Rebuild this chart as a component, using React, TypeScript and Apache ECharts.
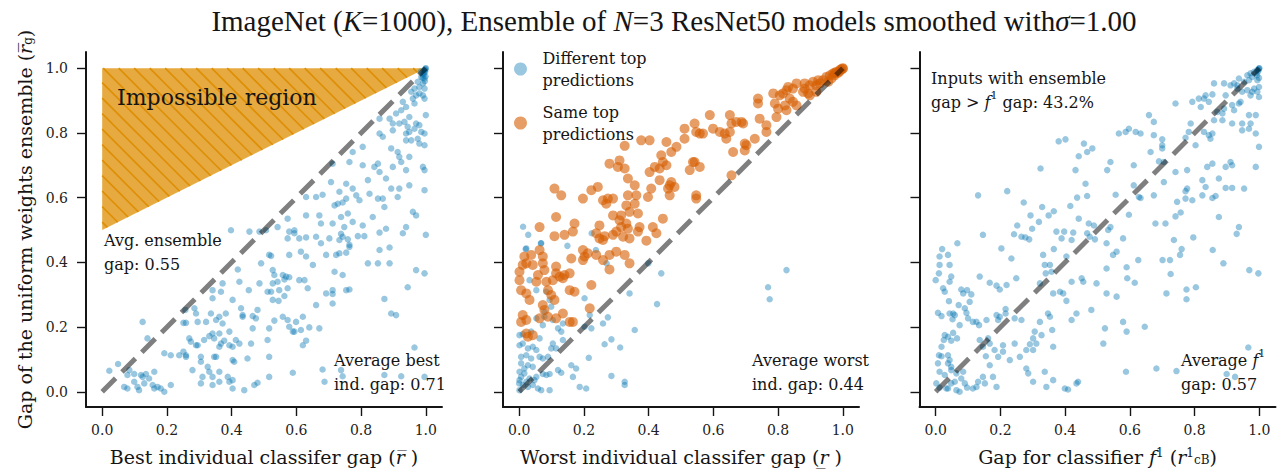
import React, { useEffect, useRef } from 'react';
import * as echarts from 'echarts';

const X_TICKS = [0, 0.2, 0.4, 0.6, 0.8, 1.0];
const Y_TICKS = [0, 0.2, 0.4, 0.6, 0.8, 1.0];
const DIAGONAL = [[0, 0], [1, 1]];
const IMPOSSIBLE_REGION = [[0, 0.5], [0, 1], [1, 1]];

// Panel 1: best individual classifier gap vs ensemble gap
const BEST_VS_ENSEMBLE = [
  [1.0, 1.0], [0.999, 0.998], [0.997, 0.995], [0.998, 0.99], [0.995, 0.985], [0.993, 0.98], [0.999, 0.975], [0.99, 0.97], [0.985, 0.99], [0.997, 0.96],
  [0.996, 0.994], [0.991, 0.984], [0.986, 0.973], [0.996, 0.968], [0.975, 0.958], [0.991, 0.953], [0.98, 0.942], [0.965, 0.937], [0.996, 0.937], [0.955, 0.927], [0.98, 0.922], [0.97, 0.916], [0.991, 0.916], [0.96, 0.906], [0.996, 0.906],
  [0.929, 0.896], [0.965, 0.891], [0.939, 0.88], [0.924, 0.87], [0.949, 0.849], [1.0, 0.855], [0.908, 0.86], [0.888, 0.844], [0.857, 0.844], [0.898, 0.829], [0.918, 0.829], [0.934, 0.834], [0.97, 0.829], [0.98, 0.824], [0.944, 0.819], [0.965, 0.813], [0.939, 0.798], [0.986, 0.803], [0.996, 0.798], [0.949, 0.803], [0.857, 0.798], [0.898, 0.808], [0.867, 0.788], [0.955, 0.777], [0.975, 0.782], [0.939, 0.777], [0.996, 0.762], [0.98, 0.767], [0.893, 0.752], [0.805, 0.757], [0.774, 0.741], [0.913, 0.741], [0.949, 0.726], [0.918, 0.726], [0.924, 0.71], [0.764, 0.71], [0.712, 0.705], [0.805, 0.7], [0.852, 0.705], [0.841, 0.695], [0.898, 0.695], [0.991, 0.695], [0.996, 0.685], [0.939, 0.685], [0.857, 0.679], [0.707, 0.648], [0.821, 0.654], [0.877, 0.659], [0.754, 0.643], [0.949, 0.638], [0.893, 0.628], [0.918, 0.628], [0.996, 0.623], [0.774, 0.628], [0.733, 0.618], [0.785, 0.607], [0.826, 0.612], [0.852, 0.597], [0.63, 0.602], [0.661, 0.602], [0.681, 0.609], [0.754, 0.597], [0.795, 0.592], [0.867, 0.597], [0.913, 0.602], [0.718, 0.576], [0.728, 0.581], [0.743, 0.585], [0.872, 0.571], [0.96, 0.556], [0.97, 0.545], [0.63, 0.545], [0.671, 0.545], [0.738, 0.54], [0.759, 0.551], [0.836, 0.54], [0.573, 0.535], [0.542, 0.509], [0.676, 0.52], [0.712, 0.52], [0.748, 0.509], [0.774, 0.525], [0.805, 0.514], [0.939, 0.509], [0.398, 0.499], [0.506, 0.499], [0.594, 0.499], [0.877, 0.504],
  [0.455, 0.495], [0.486, 0.495], [0.578, 0.495], [0.594, 0.49], [0.63, 0.477], [0.661, 0.479], [0.738, 0.488], [0.743, 0.479], [0.79, 0.481], [0.81, 0.481], [0.857, 0.492], [0.929, 0.49], [1.0, 0.485], [0.573, 0.474], [0.609, 0.474], [0.676, 0.459], [0.702, 0.474], [0.733, 0.469], [0.759, 0.471], [0.764, 0.454],
  [0.516, 0.423], [0.522, 0.42], [0.491, 0.397], [0.578, 0.423], [0.614, 0.433], [0.63, 0.418], [0.651, 0.392], [0.692, 0.423], [0.723, 0.423], [0.733, 0.428], [0.754, 0.43], [0.764, 0.448], [0.821, 0.397], [0.852, 0.397], [0.857, 0.438], [0.888, 0.397], [0.888, 0.446], [0.97, 0.376], [0.996, 0.366],
  [0.419, 0.378], [0.527, 0.376], [0.532, 0.361], [0.558, 0.361], [0.568, 0.356], [0.563, 0.347], [0.609, 0.345], [0.578, 0.354], [0.625, 0.345], [0.718, 0.371], [0.743, 0.361], [0.424, 0.34], [0.486, 0.335], [0.527, 0.335], [0.542, 0.34], [0.511, 0.309], [0.522, 0.309], [0.547, 0.314], [0.573, 0.32], [0.635, 0.32], [0.692, 0.304], [0.712, 0.314], [0.712, 0.302], [0.754, 0.314], [0.764, 0.316], [0.944, 0.323], [0.372, 0.335], [0.367, 0.309], [0.341, 0.314], [0.453, 0.314], [0.341, 0.289], [0.403, 0.284], [0.527, 0.284], [0.545, 0.281], [0.563, 0.296], [0.661, 0.268], [0.712, 0.273], [0.872, 0.287],
  [0.257, 0.253], [0.285, 0.258], [0.29, 0.242], [0.336, 0.242], [0.362, 0.232], [0.382, 0.242], [0.429, 0.258], [0.434, 0.237], [0.434, 0.232], [0.48, 0.253], [0.558, 0.232], [0.532, 0.22], [0.573, 0.222], [0.599, 0.216], [0.62, 0.232], [0.352, 0.222], [0.465, 0.234], [0.475, 0.227], [0.893, 0.242], [0.908, 0.237],
  [0.125, 0.216], [0.251, 0.213], [0.259, 0.213], [0.295, 0.216], [0.321, 0.216], [0.372, 0.211], [0.465, 0.196], [0.516, 0.196], [0.578, 0.201], [0.614, 0.191], [0.64, 0.199], [0.671, 0.196], [0.589, 0.186], [0.594, 0.186],
  [0.14, 0.165], [0.269, 0.165], [0.274, 0.155], [0.295, 0.144], [0.315, 0.16], [0.29, 0.144], [0.331, 0.172], [0.341, 0.18], [0.346, 0.165], [0.362, 0.18], [0.367, 0.149], [0.377, 0.158], [0.393, 0.186], [0.413, 0.16], [0.424, 0.149], [0.362, 0.139], [0.393, 0.144], [0.403, 0.139], [0.511, 0.16], [0.63, 0.158], [0.62, 0.144], [0.46, 0.149],
  [0.192, 0.119], [0.212, 0.113], [0.238, 0.113], [0.251, 0.124], [0.259, 0.113], [0.259, 0.108], [0.305, 0.108], [0.346, 0.108], [0.352, 0.108], [0.449, 0.103], [0.516, 0.108], [0.305, 0.093], [0.403, 0.098], [0.326, 0.077], [0.408, 0.093], [0.965, 0.137],
  [0.022, 0.065], [0.049, 0.086], [0.078, 0.052], [0.084, 0.067], [0.099, 0.055], [0.12, 0.052], [0.125, 0.046], [0.135, 0.055], [0.161, 0.062], [0.145, 0.041], [0.13, 0.026], [0.109, 0.015], [0.114, 0.005], [0.099, 0.031], [0.068, 0.015], [0.078, 0.01], [0.156, 0.021], [0.161, 0.01], [0.171, 0.015], [0.192, 0.0], [0.181, 0.01], [0.212, 0.021], [0.279, 0.067], [0.31, 0.046], [0.331, 0.062], [0.341, 0.046], [0.362, 0.062], [0.388, 0.046], [0.393, 0.031], [0.403, 0.036], [0.341, 0.021], [0.305, 0.026], [0.362, 0.031], [0.403, 0.01], [0.439, 0.005], [0.47, 0.021], [0.48, 0.028], [0.516, 0.046], [0.589, 0.059], [0.681, 0.069], [0.687, 0.031], [0.738, 0.067], [0.743, 0.048], [0.872, 0.052], [0.924, 0.048], [0.996, 0.046],
];

// Panel 2: worst individual classifier gap vs ensemble gap
const WORST_DIFFERENT = [
  [0.012, 0.51], [0.028, 0.485], [0.067, 0.459], [0.02, 0.441], [0.149, 0.451], [0.224, 0.49], [0.237, 0.438], [0.27, 0.397], [0.399, 0.397],
  [0.022, 0.443], [0.068, 0.459], [0.032, 0.345], [0.053, 0.314], [0.084, 0.309], [0.094, 0.284], [0.099, 0.263], [0.078, 0.247], [0.073, 0.206], [0.053, 0.227], [0.078, 0.232], [0.12, 0.196], [0.135, 0.211], [0.104, 0.222], [0.13, 0.186], [0.202, 0.289], [0.218, 0.237], [0.223, 0.196], [0.202, 0.201], [0.259, 0.211], [0.274, 0.23], [0.357, 0.191], [0.264, 0.147], [0.285, 0.162], [0.312, 0.137], [0.215, 0.105], [0.439, 0.366], [0.426, 0.271], [0.341, 0.304], [0.826, 0.376], [0.769, 0.323], [0.774, 0.286],
  [0.001, 0.175], [0.011, 0.178], [0.037, 0.186], [0.063, 0.165], [0.001, 0.144], [0.011, 0.149], [0.027, 0.134], [0.042, 0.139], [0.053, 0.129], [0.022, 0.113], [0.006, 0.108], [0.037, 0.103], [0.063, 0.108], [0.073, 0.103], [0.089, 0.108], [0.114, 0.134], [0.135, 0.16], [0.104, 0.149], [0.099, 0.134], [0.006, 0.088], [0.027, 0.082], [0.042, 0.077], [0.001, 0.062], [0.016, 0.057], [0.032, 0.041], [0.047, 0.036], [0.0, 0.026], [0.011, 0.021], [0.027, 0.015], [0.042, 0.021], [0.058, 0.01], [0.068, 0.005], [0.094, 0.005], [0.001, 0.005], [0.084, 0.052], [0.073, 0.055], [0.094, 0.055], [0.12, 0.067], [0.13, 0.059], [0.161, 0.082], [0.166, 0.046], [0.176, 0.072], [0.187, 0.015], [0.207, 0.01], [0.285, 0.049], [0.326, 0.031], [0.326, 0.021], [0.001, 0.036], [0.022, 0.031], [0.053, 0.046], [0.006, 0.046], [0.016, 0.072],
];

const WORST_SAME = [
  [1.0, 1.0], [0.995, 0.997], [0.99, 0.99], [0.985, 0.985], [0.975, 0.985], [1.0, 0.998],
  [0.991, 0.994], [0.98, 0.989], [0.97, 0.984], [0.96, 0.978], [0.949, 0.973], [0.975, 0.978], [0.965, 0.968], [0.939, 0.963], [0.955, 0.958], [0.929, 0.953], [0.918, 0.947], [0.924, 0.963], [0.908, 0.958], [0.898, 0.947], [0.882, 0.953], [0.857, 0.953], [0.882, 0.937], [0.877, 0.927], [0.893, 0.922], [0.898, 0.916], [0.918, 0.927], [0.846, 0.937], [0.831, 0.942], [0.826, 0.932], [0.815, 0.922], [0.805, 0.916], [0.785, 0.922], [0.836, 0.906], [0.846, 0.896], [0.857, 0.885], [0.821, 0.885], [0.826, 0.87], [0.8, 0.875], [0.795, 0.849], [0.79, 0.891], [0.738, 0.906], [0.738, 0.891], [0.743, 0.844], [0.764, 0.824], [0.764, 0.803], [0.728, 0.782], [0.702, 0.762], [0.697, 0.746], [0.651, 0.855], [0.656, 0.829], [0.671, 0.834], [0.687, 0.834], [0.692, 0.829], [0.697, 0.767], [0.661, 0.741], [0.656, 0.669], [0.589, 0.855], [0.599, 0.813], [0.62, 0.803], [0.635, 0.798], [0.64, 0.782], [0.651, 0.803], [0.542, 0.829], [0.547, 0.803], [0.558, 0.798], [0.568, 0.798], [0.511, 0.813], [0.511, 0.782], [0.455, 0.772], [0.486, 0.757], [0.47, 0.741], [0.439, 0.731], [0.444, 0.71], [0.455, 0.7], [0.434, 0.69], [0.403, 0.679], [0.419, 0.695], [0.47, 0.648], [0.465, 0.638], [0.46, 0.628], [0.48, 0.633], [0.465, 0.607], [0.537, 0.71], [0.542, 0.71], [0.527, 0.685], [0.558, 0.695], [0.377, 0.777], [0.403, 0.777], [0.326, 0.76], [0.31, 0.715], [0.305, 0.695], [0.326, 0.69], [0.279, 0.705], [0.336, 0.659], [0.357, 0.638], [0.408, 0.628], [0.434, 0.654], [0.398, 0.602], [0.336, 0.607], [0.362, 0.607], [0.357, 0.581], [0.259, 0.592], [0.274, 0.597], [0.29, 0.597], [0.269, 0.581], [0.331, 0.576], [0.341, 0.556], [0.367, 0.551], [0.315, 0.545], [0.29, 0.545], [0.31, 0.53], [0.331, 0.52], [0.315, 0.509], [0.336, 0.504], [0.372, 0.509], [0.413, 0.509], [0.444, 0.535], [0.109, 0.628], [0.13, 0.607], [0.197, 0.597], [0.223, 0.623], [0.243, 0.633], [0.114, 0.54], [0.171, 0.52], [0.248, 0.514], [0.063, 0.509], [0.547, 0.607], [0.547, 0.597],
  [0.109, 0.481], [0.14, 0.485], [0.166, 0.495], [0.238, 0.49], [0.248, 0.474], [0.259, 0.469], [0.264, 0.481], [0.29, 0.485], [0.3, 0.495], [0.321, 0.479], [0.341, 0.474], [0.367, 0.495], [0.393, 0.467], [0.424, 0.49], [0.016, 0.418], [0.037, 0.423], [0.063, 0.438], [0.073, 0.418], [0.073, 0.397], [0.114, 0.387], [0.14, 0.361], [0.161, 0.412], [0.197, 0.438], [0.202, 0.418], [0.197, 0.407], [0.212, 0.428], [0.238, 0.423], [0.259, 0.407], [0.279, 0.423], [0.279, 0.378], [0.3, 0.433], [0.326, 0.423], [0.341, 0.397], [0.001, 0.371], [0.011, 0.392], [0.022, 0.397], [0.042, 0.392], [0.001, 0.345], [0.006, 0.314], [0.022, 0.304], [0.032, 0.284], [0.053, 0.34], [0.058, 0.361], [0.078, 0.376], [0.084, 0.34], [0.104, 0.345], [0.114, 0.366], [0.125, 0.356], [0.135, 0.351], [0.156, 0.366], [0.156, 0.314], [0.171, 0.309], [0.223, 0.33], [0.089, 0.314], [0.099, 0.299], [0.109, 0.284], [0.073, 0.268], [0.078, 0.253], [0.063, 0.227], [0.089, 0.232], [0.114, 0.227], [0.135, 0.242], [0.156, 0.216], [0.166, 0.216], [0.218, 0.258], [0.011, 0.237], [0.022, 0.222], [0.006, 0.216], [0.022, 0.18], [0.027, 0.17], [0.042, 0.175],
];

// Panel 3: classifier f1 gap vs ensemble gap
const F1_VS_ENSEMBLE = [
  [1.0, 1.0], [0.998, 0.996], [0.996, 0.99], [0.99, 0.985], [0.993, 0.978], [0.999, 0.97],
  [0.999, 0.999], [0.994, 0.994], [0.984, 0.989], [0.973, 0.984], [0.978, 0.973], [0.963, 0.978], [0.968, 0.963], [0.994, 0.963], [0.953, 0.958], [0.937, 0.968], [0.922, 0.953], [0.932, 0.947], [0.984, 0.937], [0.999, 0.942], [0.963, 0.932], [0.978, 0.927], [0.994, 0.927], [0.973, 0.916], [0.999, 0.911], [0.947, 0.927], [0.932, 0.937], [0.911, 0.947], [0.891, 0.953], [0.86, 0.953], [0.896, 0.916], [0.937, 0.891], [0.916, 0.886], [0.891, 0.875], [0.87, 0.865], [0.86, 0.839], [0.886, 0.839], [0.942, 0.896], [0.834, 0.916], [0.855, 0.919], [0.813, 0.906], [0.829, 0.906], [0.844, 0.896], [0.793, 0.896], [0.819, 0.88], [0.741, 0.891], [0.886, 0.86], [0.922, 0.87], [0.968, 0.855], [0.989, 0.855], [0.916, 0.829], [0.947, 0.829], [0.973, 0.829], [0.947, 0.808], [0.968, 0.813], [0.989, 0.798], [0.999, 0.757], [0.989, 0.695], [0.659, 0.855], [0.674, 0.834], [0.566, 0.798], [0.587, 0.803], [0.597, 0.813], [0.618, 0.803], [0.633, 0.798], [0.674, 0.793], [0.7, 0.78], [0.7, 0.762], [0.7, 0.752], [0.705, 0.71], [0.69, 0.712], [0.664, 0.741], [0.612, 0.7], [0.628, 0.602], [0.612, 0.638], [0.674, 0.607], [0.705, 0.648], [0.741, 0.679], [0.777, 0.685], [0.782, 0.803], [0.788, 0.829], [0.772, 0.785], [0.829, 0.803], [0.844, 0.793], [0.849, 0.782], [0.855, 0.798], [0.803, 0.762], [0.839, 0.695], [0.855, 0.705], [0.896, 0.695], [0.911, 0.71], [0.916, 0.7], [0.38, 0.774], [0.401, 0.78], [0.458, 0.767], [0.484, 0.752], [0.468, 0.741], [0.442, 0.728], [0.54, 0.71], [0.53, 0.685], [0.432, 0.685], [0.324, 0.69], [0.463, 0.643], [0.437, 0.6], [0.468, 0.605], [0.556, 0.609], [0.633, 0.599], [0.221, 0.62], [0.131, 0.607], [0.272, 0.585], [0.329, 0.571], [0.293, 0.545], [0.349, 0.545], [0.365, 0.558], [0.319, 0.525], [0.252, 0.514], [0.298, 0.504], [0.416, 0.574], [0.442, 0.535], [0.473, 0.52], [0.489, 0.514], [0.54, 0.509], [0.597, 0.547], [0.679, 0.52], [0.71, 0.52], [0.741, 0.542], [0.757, 0.554], [0.772, 0.597], [0.793, 0.592], [0.824, 0.607], [0.834, 0.633], [0.855, 0.599], [0.865, 0.605], [0.875, 0.659], [0.896, 0.63], [0.916, 0.63], [0.953, 0.628], [0.746, 0.587], [0.875, 0.54], [0.937, 0.509], [0.772, 0.62], [0.777, 0.628], [0.824, 0.654],
  [0.067, 0.459], [0.146, 0.485], [0.203, 0.443], [0.242, 0.487], [0.265, 0.479], [0.277, 0.477], [0.289, 0.471], [0.365, 0.441], [0.373, 0.495], [0.389, 0.474], [0.397, 0.495], [0.425, 0.492], [0.42, 0.469], [0.468, 0.49], [0.476, 0.479], [0.492, 0.471], [0.528, 0.459], [0.533, 0.5], [0.579, 0.474], [0.736, 0.469], [0.76, 0.441], [0.796, 0.477], [0.93, 0.488], [0.02, 0.441],
  [0.012, 0.418], [0.038, 0.423], [0.012, 0.392], [0.043, 0.392], [0.0, 0.345], [0.01, 0.366], [0.023, 0.32], [0.028, 0.309], [0.043, 0.34], [0.048, 0.356], [0.041, 0.28], [0.054, 0.242], [0.059, 0.237], [0.052, 0.224], [0.043, 0.242], [0.071, 0.268], [0.074, 0.206], [0.007, 0.244], [0.018, 0.234], [0.025, 0.16], [0.018, 0.139], [0.028, 0.175], [0.038, 0.17], [0.054, 0.182], [0.048, 0.158], [0.066, 0.165], [0.01, 0.113], [0.018, 0.11], [0.038, 0.113], [0.043, 0.098], [0.007, 0.088], [0.038, 0.088], [0.048, 0.077], [0.012, 0.062], [0.028, 0.052], [0.048, 0.067], [0.064, 0.057], [0.079, 0.041], [0.085, 0.062], [0.002, 0.026], [0.012, 0.013], [0.033, 0.01], [0.048, 0.026], [0.038, 0.01], [0.059, 0.031], [0.064, 0.005], [0.074, 0.0], [0.09, 0.026], [0.097, 0.013], [0.115, 0.01], [0.126, 0.015],
  [0.079, 0.316], [0.085, 0.304], [0.097, 0.314], [0.11, 0.301], [0.105, 0.278], [0.09, 0.258], [0.095, 0.244], [0.1, 0.227], [0.115, 0.216], [0.126, 0.216], [0.136, 0.356], [0.134, 0.206], [0.157, 0.222], [0.136, 0.16], [0.146, 0.139], [0.162, 0.165], [0.167, 0.149], [0.182, 0.129], [0.155, 0.11], [0.167, 0.082], [0.177, 0.046], [0.146, 0.046], [0.131, 0.031], [0.152, 0.026], [0.188, 0.015], [0.193, 0.108], [0.208, 0.124], [0.229, 0.098], [0.244, 0.149], [0.26, 0.108], [0.208, 0.144], [0.167, 0.337], [0.188, 0.328], [0.198, 0.316], [0.219, 0.33], [0.234, 0.412], [0.249, 0.351], [0.188, 0.237], [0.193, 0.222], [0.198, 0.232], [0.216, 0.256], [0.216, 0.242], [0.244, 0.227], [0.265, 0.222],
  [0.28, 0.072], [0.286, 0.057], [0.301, 0.031], [0.301, 0.165], [0.306, 0.186], [0.311, 0.149], [0.322, 0.216], [0.327, 0.175], [0.337, 0.062], [0.342, 0.015], [0.347, 0.242], [0.353, 0.232], [0.363, 0.036], [0.363, 0.139], [0.36, 0.191], [0.301, 0.129], [0.28, 0.129], [0.291, 0.147], [0.332, 0.423], [0.337, 0.392], [0.353, 0.392], [0.34, 0.366], [0.358, 0.371], [0.322, 0.335], [0.363, 0.304], [0.384, 0.309], [0.394, 0.304], [0.404, 0.281], [0.404, 0.418], [0.399, 0.01], [0.409, 0.007], [0.435, 0.242], [0.435, 0.026], [0.44, 0.031], [0.456, 0.34], [0.451, 0.351], [0.42, 0.34], [0.42, 0.222], [0.481, 0.253], [0.497, 0.335], [0.518, 0.149], [0.523, 0.196], [0.528, 0.304], [0.528, 0.381], [0.559, 0.294], [0.548, 0.423], [0.559, 0.433], [0.579, 0.216], [0.59, 0.186], [0.588, 0.062], [0.59, 0.385], [0.592, 0.351], [0.615, 0.337], [0.626, 0.407], [0.646, 0.201], [0.682, 0.072], [0.701, 0.407], [0.713, 0.304], [0.724, 0.407], [0.726, 0.364], [0.744, 0.064], [0.755, 0.423], [0.775, 0.316], [0.775, 0.286], [0.804, 0.323], [0.856, 0.438], [0.889, 0.397], [0.969, 0.376], [0.997, 0.366], [0.966, 0.137], [0.899, 0.055], [0.925, 0.046],
];

const SERIF = 'DejaVu Serif';
const TEXT = '#151515';
const BLUE = 'rgba(1,115,178,0.5)';
const ORANGE = 'rgba(213,94,0,0.75)';

const GRID_LEFTS = [86, 503, 919.5];

function App() {
  const ref = useRef<HTMLDivElement>(null);

  useEffect(() => {
    document.body.style.margin = '0';
    if (!ref.current) return;
    const chart = echarts.init(ref.current, null, { renderer: 'svg' });

    const richName = {
      i: { fontFamily: SERIF, fontSize: 19, fontStyle: 'italic', color: TEXT },
      sup: { fontFamily: SERIF, fontSize: 12, verticalAlign: 'top', color: TEXT },
      sub: { fontFamily: SERIF, fontSize: 12, verticalAlign: 'bottom', color: TEXT },
    };

    const xNames = [
      'Best individual classifer gap ({i|r\u0305} )',
      'Worst individual classifer gap ({i|r\u0332} )',
      'Gap for classifier {i|f}{sup|1} ({i|r}{sup|1}{sub|cB})',
    ];

    const xAxes = GRID_LEFTS.map((_, gi) => ({
      type: 'value',
      gridIndex: gi,
      min: -0.05,
      max: 1.05,
      axisLine: { show: true, onZero: false, lineStyle: { color: TEXT, width: 2 } },
      axisTick: { show: true, length: 9, customValues: X_TICKS, lineStyle: { color: TEXT, width: 1.4 } },
      axisLabel: {
        customValues: X_TICKS,
        formatter: (v: number) => v.toFixed(1),
        margin: 16,
        fontFamily: SERIF,
        fontSize: 14,
        color: '#222',
      },
      splitLine: { show: false },
      name: xNames[gi],
      nameLocation: 'middle',
      nameGap: 40,
      nameMoveOverlap: false,
      nameTextStyle: { fontFamily: SERIF, fontSize: 19, color: TEXT, rich: richName },
    }));

    const yAxes = GRID_LEFTS.map((_, gi) => ({
      type: 'value',
      gridIndex: gi,
      min: -0.047,
      max: 1.05,
      axisLine: { show: true, onZero: false, lineStyle: { color: TEXT, width: 2 } },
      axisTick: { show: true, length: 9, customValues: Y_TICKS, lineStyle: { color: TEXT, width: 1.4 } },
      axisLabel: {
        show: gi === 0,
        customValues: Y_TICKS,
        formatter: (v: number) => v.toFixed(1),
        margin: 18,
        fontFamily: SERIF,
        fontSize: 14,
        color: '#222',
      },
      splitLine: { show: false },
      name: gi === 0 ? 'Gap of the uniform weights ensemble ({i|r\u0305}{sub|g})' : '',
      nameLocation: 'middle',
      nameRotate: 90,
      nameGap: 52,
      nameMoveOverlap: false,
      nameTextStyle: { fontFamily: SERIF, fontSize: 19, color: TEXT, rich: richName },
    }));

    const diag = (gi: number) => ({
      type: 'line',
      name: 'diag' + gi,
      xAxisIndex: gi,
      yAxisIndex: gi,
      data: DIAGONAL,
      symbol: 'none',
      silent: true,
      z: 5,
      lineStyle: { color: 'rgba(0,0,0,0.5)', width: 5, type: [19, 9], cap: 'butt' },
    });

    const scatter = (gi: number, name: string, data: number[][], color: string, size: number, z = 3) => ({
      type: 'scatter',
      name,
      xAxisIndex: gi,
      yAxisIndex: gi,
      data,
      symbol: 'circle',
      symbolSize: size,
      silent: true,
      z,
      itemStyle: { color, borderWidth: 0 },
    });

    const option: any = {
      animation: false,
      grid: GRID_LEFTS.map((left) => ({
        left,
        top: 52,
        width: 356,
        height: 355,
        containLabel: false,
        outerBoundsMode: 'none',
      })),
      xAxis: xAxes,
      yAxis: yAxes,
      legend: {
        show: true,
        orient: 'vertical',
        left: 514,
        top: 47,
        padding: 0,
        itemGap: 10,
        itemWidth: 34,
        itemHeight: 13,
        icon: 'circle',
        selectedMode: false,
        data: ['Different top predictions', 'Same top predictions'],
        formatter: (name: string) => name.replace(' predictions', '\npredictions'),
        textStyle: { fontFamily: SERIF, fontSize: 16, lineHeight: 22, color: TEXT },
      },
      series: [
        {
          type: 'custom',
          name: 'impossible',
          xAxisIndex: 0,
          yAxisIndex: 0,
          data: [IMPOSSIBLE_REGION[0]],
          silent: true,
          z: 1,
          renderItem: (_params: any, api: any) => {
            const pts = IMPOSSIBLE_REGION.map((p) => api.coord(p));
            const children: any[] = [
              { type: 'polygon', shape: { points: pts }, style: { fill: 'rgba(222,143,5,0.76)' } },
            ];
            const ks = pts.map((p: number[]) => p[0] - p[1]);
            const kMin = Math.min(...ks);
            const kMax = Math.max(...ks);
            const step = 15.5;
            for (let k = Math.ceil(kMin / step) * step + 4; k < kMax; k += step) {
              const hits: number[][] = [];
              for (let i = 0; i < pts.length; i++) {
                const a = pts[i];
                const b = pts[(i + 1) % pts.length];
                const fa = a[0] - a[1] - k;
                const fb = b[0] - b[1] - k;
                if ((fa <= 0 && fb > 0) || (fa > 0 && fb <= 0)) {
                  const t = fa / (fa - fb);
                  hits.push([a[0] + t * (b[0] - a[0]), a[1] + t * (b[1] - a[1])]);
                }
              }
              if (hits.length >= 2) {
                children.push({
                  type: 'line',
                  shape: { x1: hits[0][0], y1: hits[0][1], x2: hits[1][0], y2: hits[1][1] },
                  style: { stroke: '#DE8F05', lineWidth: 1.6 },
                });
              }
            }
            return { type: 'group', children };
          },
        },
        scatter(0, 'Ensemble vs best', BEST_VS_ENSEMBLE, BLUE, 6.5),
        diag(0),
        scatter(1, 'Different top predictions', WORST_DIFFERENT, BLUE, 6.5, 3),
        scatter(1, 'Same top predictions', WORST_SAME, ORANGE, 10, 4),
        diag(1),
        scatter(2, 'Ensemble vs f1', F1_VS_ENSEMBLE, BLUE, 6.5),
        diag(2),
      ],
      graphic: [
        {
          type: 'text',
          x: 674,
          y: 21,
          z: 10,
          style: {
            text: '{n|ImageNet (}{i|K}{n|=1000), Ensemble of }{i|N}{n|=3 ResNet50 models smoothed with}{i|σ}{n|=1.00}',
            align: 'center',
            verticalAlign: 'middle',
            rich: {
              n: { fontFamily: 'Liberation Serif', fontSize: 29, fill: TEXT },
              i: { fontFamily: 'Liberation Serif', fontSize: 29, fontStyle: 'italic', fill: TEXT },
            },
          },
        },
        {
          type: 'text',
          x: 117,
          y: 97,
          z: 10,
          style: { text: 'Impossible region', fontFamily: SERIF, fontSize: 22, fill: TEXT, verticalAlign: 'middle' },
        },
        {
          type: 'text',
          x: 104,
          y: 228,
          z: 10,
          style: { text: 'Avg. ensemble\ngap: 0.55', fontFamily: SERIF, fontSize: 16, lineHeight: 24, fill: TEXT, verticalAlign: 'top' },
        },
        {
          type: 'text',
          x: 334,
          y: 348,
          z: 10,
          style: { text: 'Average best\nind. gap: 0.71', fontFamily: SERIF, fontSize: 16, lineHeight: 24, fill: TEXT, verticalAlign: 'top' },
        },
        {
          type: 'text',
          x: 752,
          y: 348,
          z: 10,
          style: { text: 'Average worst\nind. gap: 0.44', fontFamily: SERIF, fontSize: 16, lineHeight: 24, fill: TEXT, verticalAlign: 'top' },
        },
        {
          type: 'text',
          x: 931,
          y: 66,
          z: 10,
          style: {
            text: '{n|Inputs with ensemble}\n{n|gap > }{i|f}{sup|1}{n| gap: 43.2%}',
            verticalAlign: 'top',
            rich: {
              n: { fontFamily: SERIF, fontSize: 16, lineHeight: 24, fill: TEXT },
              i: { fontFamily: SERIF, fontSize: 16, lineHeight: 24, fontStyle: 'italic', fill: TEXT },
              sup: { fontFamily: SERIF, fontSize: 11, verticalAlign: 'top', fill: TEXT },
            },
          },
        },
        {
          type: 'text',
          x: 1181,
          y: 348,
          z: 10,
          style: {
            text: '{n|Average }{i|f}{sup|1}\n{n|gap: 0.57}',
            verticalAlign: 'top',
            rich: {
              n: { fontFamily: SERIF, fontSize: 16, lineHeight: 24, fill: TEXT },
              i: { fontFamily: SERIF, fontSize: 16, lineHeight: 24, fontStyle: 'italic', fill: TEXT },
              sup: { fontFamily: SERIF, fontSize: 11, verticalAlign: 'top', fill: TEXT },
            },
          },
        },
      ],
    };

    chart.setOption(option);
    return () => chart.dispose();
  }, []);

  return <div ref={ref} style={{ width: 1277, height: 474 }} />;
}

export default App;
